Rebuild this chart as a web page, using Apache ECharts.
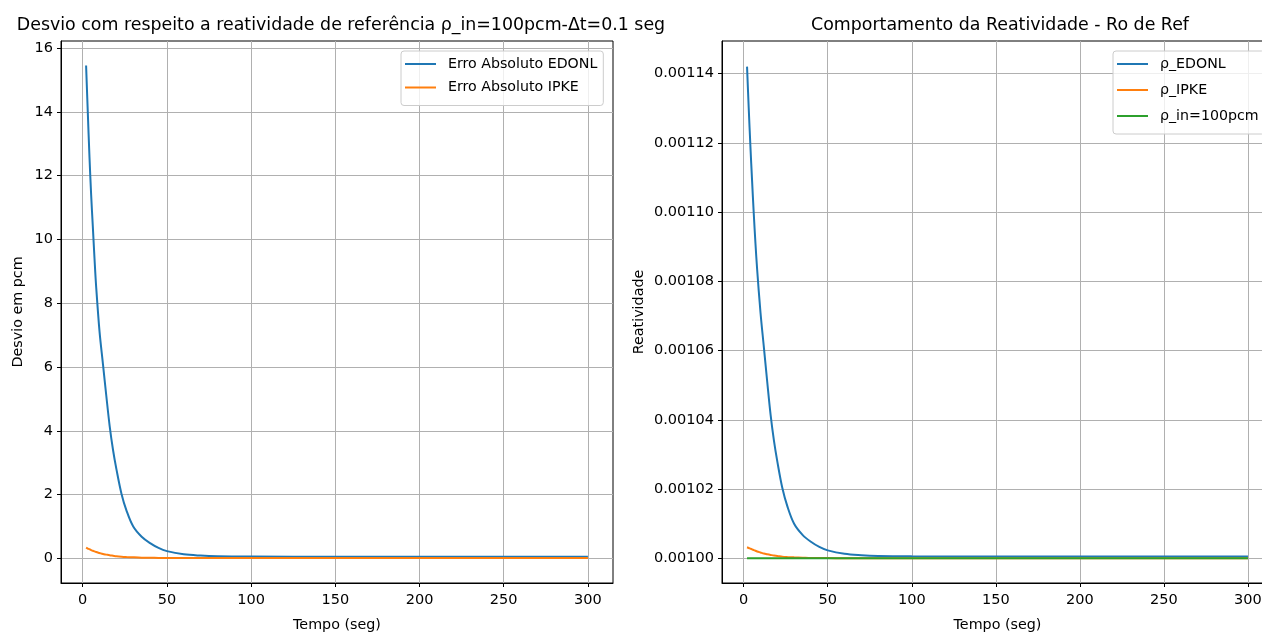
<!DOCTYPE html>
<html>
<head>
<meta charset="utf-8">
<script src="https://cdn.jsdelivr.net/npm/echarts@6/dist/echarts.min.js"></script>
<style>
  html, body { margin: 0; padding: 0; background: #fff; overflow: hidden; }
  #chart { width: 1300px; height: 637px; }
</style>
</head>
<body>
<div id="chart"></div>
<script>
// Time samples (s)
const tempo = [2, 3, 4, 5, 6, 7, 8, 10, 12, 14, 16, 18, 20, 23, 26, 30, 35, 40, 45, 50, 60, 70, 80, 100, 150, 200, 250, 300];

// Absolute error with respect to the reference reactivity (pcm)
const erroEDONL = [15.45, 14.0, 12.6, 11.4, 10.4, 9.4, 8.5, 7.1, 6.1, 5.1, 4.15, 3.4, 2.8, 2.03, 1.5, 1.0, 0.68, 0.48, 0.33, 0.23, 0.13, 0.09, 0.07, 0.06, 0.055, 0.055, 0.055, 0.055];
const erroIPKE = [0.34, 0.31, 0.29, 0.26, 0.24, 0.22, 0.2, 0.17, 0.14, 0.12, 0.1, 0.085, 0.07, 0.055, 0.045, 0.035, 0.025, 0.02, 0.016, 0.014, 0.012, 0.01, 0.01, 0.01, 0.01, 0.01, 0.01, 0.01];

// Reactivity estimates
const rhoEDONL = [0.001142, 0.001130, 0.001119, 0.001109, 0.0010995, 0.001091, 0.0010835, 0.001071, 0.001061, 0.001051, 0.0010415, 0.001034, 0.001028, 0.0010203, 0.001015, 0.00101, 0.0010068, 0.0010048, 0.0010033, 0.0010023, 0.0010013, 0.0010009, 0.0010007, 0.0010006, 0.00100055, 0.00100055, 0.00100055, 0.00100055];
const rhoIPKE = [0.0010032, 0.0010030, 0.0010028, 0.0010026, 0.0010024, 0.0010022, 0.0010020, 0.0010017, 0.0010014, 0.0010012, 0.0010010, 0.0010008, 0.0010007, 0.0010005, 0.0010004, 0.0010003, 0.0010002, 0.0010001, 0.0010001, 0.0010001, 0.001, 0.001, 0.001, 0.001, 0.001, 0.001, 0.001, 0.001];
const rhoIn = [0.001, 0.001, 0.001, 0.001, 0.001, 0.001, 0.001, 0.001, 0.001, 0.001, 0.001, 0.001, 0.001, 0.001, 0.001, 0.001, 0.001, 0.001, 0.001, 0.001, 0.001, 0.001, 0.001, 0.001, 0.001, 0.001, 0.001, 0.001];

// Tick values
const xTicks = [0, 50, 100, 150, 200, 250, 300];
const yTicksErro = [0, 2, 4, 6, 8, 10, 12, 14, 16];
const yTicksRho = [0.00100, 0.00102, 0.00104, 0.00106, 0.00108, 0.00110, 0.00112, 0.00114];

const FONT = 'DejaVu Sans';
const TICK_FS = 14.5;
const C_BLUE = '#1f77b4', C_ORANGE = '#ff7f0e', C_GREEN = '#2ca02c';

const pairs = (ys) => tempo.map((t, i) => [t, ys[i]]);

function xAxisCfg(gridIndex) {
  return {
    type: 'value', gridIndex,
    min: -12.9, max: 314.9,
    name: 'Tempo (seg)', nameLocation: 'middle', nameGap: 35,
    nameTextStyle: { fontFamily: FONT, fontSize: 14.3, color: '#000' },
    axisLine: { show: true, onZero: false, lineStyle: { color: '#000', width: 1 } },
    axisTick: { show: true, length: 4, customValues: xTicks, lineStyle: { color: '#000' } },
    axisLabel: { customValues: xTicks, fontFamily: FONT, fontSize: TICK_FS, color: '#000', margin: 10 },
    splitLine: { show: true, lineStyle: { color: '#b0b0b0', width: 1 } }
  };
}

function yAxisCfg(gridIndex, min, max, ticks, name, nameGap, fmt) {
  return {
    type: 'value', gridIndex, min, max,
    name, nameLocation: 'middle', nameGap,
    nameTextStyle: { fontFamily: FONT, fontSize: 14.3, color: '#000' },
    axisLine: { show: true, onZero: false, lineStyle: { color: '#000', width: 1 } },
    axisTick: { show: true, length: 4, customValues: ticks, lineStyle: { color: '#000' } },
    axisLabel: { customValues: ticks, fontFamily: FONT, fontSize: TICK_FS, color: '#000', margin: 8, formatter: fmt },
    splitLine: { show: true, lineStyle: { color: '#b0b0b0', width: 1 } }
  };
}

function lineSeries(name, color, data, xi, yi) {
  return {
    type: 'line', name, data, xAxisIndex: xi, yAxisIndex: yi,
    showSymbol: false, smooth: 0.35,
    lineStyle: { color, width: 2 }, itemStyle: { color },
    animation: false
  };
}

const legendBase = {
  orient: 'vertical', icon: 'rect', itemWidth: 31, itemHeight: 2,
  backgroundColor: 'rgba(255,255,255,0.8)', borderColor: '#cccccc', borderWidth: 1, borderRadius: 3,
  textStyle: { fontFamily: FONT, fontSize: 14.2, color: '#000', padding: [0, 0, 0, 7] }
};

const chart = echarts.init(document.getElementById('chart'), null, { renderer: 'canvas' });
chart.setOption({
  animation: false,
  backgroundColor: '#fff',
  title: [
    { text: 'Desvio com respeito a reatividade de referência ρ_in=100pcm-Δt=0.1 seg', left: 336, top: 12, textAlign: 'center',
      textStyle: { fontFamily: FONT, fontSize: 17.4, fontWeight: 'normal', color: '#000' } },
    { text: 'Comportamento da Reatividade - Ro de Ref', left: 995, top: 12, textAlign: 'center',
      textStyle: { fontFamily: FONT, fontSize: 17.4, fontWeight: 'normal', color: '#000' } }
  ],
  grid: [
    { left: 61, top: 41, width: 552, height: 545, show: true, borderColor: '#000', borderWidth: 1, backgroundColor: 'transparent' },
    { left: 722, top: 41, width: 551, height: 545, show: true, borderColor: '#000', borderWidth: 1, backgroundColor: 'transparent' }
  ],
  xAxis: [xAxisCfg(0), xAxisCfg(1)],
  yAxis: [
    yAxisCfg(0, -0.77, 16.22, yTicksErro, 'Desvio em pcm', 36, v => String(v)),
    yAxisCfg(1, 0.000992885, 0.0011494, yTicksRho, 'Reatividade', 76, v => v.toFixed(5))
  ],
  legend: [
    Object.assign({}, legendBase, { data: ['Erro Absoluto EDONL', 'Erro Absoluto IPKE'], left: 401, top: 51,
      itemGap: 9.5, padding: [6, 6, 11, 4] }),
    Object.assign({}, legendBase, { data: ['ρ_EDONL', 'ρ_IPKE', 'ρ_in=100pcm'], left: 1113, top: 51,
      itemGap: 12, padding: [6, 6, 11, 4] })
  ],
  series: [
    lineSeries('Erro Absoluto EDONL', C_BLUE, pairs(erroEDONL), 0, 0),
    lineSeries('Erro Absoluto IPKE', C_ORANGE, pairs(erroIPKE), 0, 0),
    lineSeries('ρ_EDONL', C_BLUE, pairs(rhoEDONL), 1, 1),
    lineSeries('ρ_IPKE', C_ORANGE, pairs(rhoIPKE), 1, 1),
    lineSeries('ρ_in=100pcm', C_GREEN, pairs(rhoIn), 1, 1)
  ]
});
</script>
</body>
</html>
